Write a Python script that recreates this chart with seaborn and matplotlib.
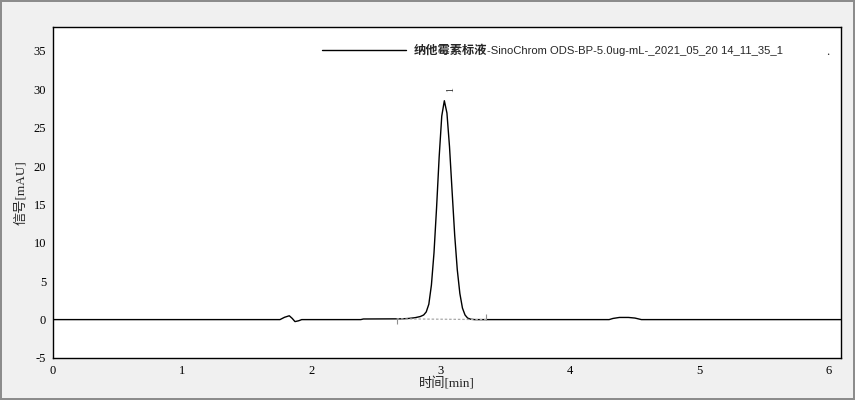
import pandas as pd
import matplotlib
matplotlib.use("Agg")
import matplotlib.pyplot as plt
import seaborn as sns

# chromatogram trace (time in min, signal in mAU)
time_min = [0.0, 1.70, 1.755, 1.79, 1.827, 1.85, 1.871, 1.90, 1.923, 2.38, 2.40,
            2.70, 2.75, 2.80, 2.84, 2.866, 2.886, 2.906, 2.926, 2.946, 2.966,
            2.986, 3.006, 3.026, 3.046, 3.066, 3.086, 3.106, 3.126, 3.146,
            3.166, 3.186, 3.206, 3.23, 3.26, 3.35, 4.30, 4.33, 4.38, 4.45,
            4.50, 4.55, 6.10]
signal_mau = [0.0, 0.0, 0.0, 0.3, 0.5, 0.15, -0.26, -0.15, 0.0, 0.0, 0.08,
              0.1, 0.15, 0.25, 0.4, 0.6, 1.0, 2.0, 4.5, 8.7, 14.6,
              21.2, 26.5, 28.5, 26.9, 22.5, 16.7, 11.0, 6.5, 3.4,
              1.5, 0.6, 0.2, 0.05, 0.0, 0.0, 0.0, 0.15, 0.28, 0.28,
              0.2, 0.0, 0.0]

# integration baseline of peak 1
baseline_t = [2.657, 3.348]
baseline_y = [0.1, 0.0]
peak_names = ["1"]
peak_t = [3.03]
peak_h = [28.5]

legend_cn = "纳他霉素标液"
legend_rest = "-SinoChrom ODS-BP-5.0ug-mL-_2021_05_20 14_11_35_1"

sns.set_style("white")
plt.rcParams["font.family"] = ["Liberation Serif", "Noto Sans CJK SC", "DejaVu Sans"]
plt.rcParams["axes.unicode_minus"] = False

df = pd.DataFrame({"t": time_min, "s": signal_mau})

fig = plt.figure(figsize=(8.55, 4.0), dpi=100)
fig.patch.set_facecolor("#f0f0f0")
fig.patch.set_edgecolor("#8c8c8c")
fig.patch.set_linewidth(1.5)
ax = fig.add_axes([0.062, 0.105, 0.9216, 0.8275])
ax.set_facecolor("white")

sns.lineplot(data=df, x="t", y="s", ax=ax, color="black", linewidth=1.0,
             sort=False, estimator=None, label=legend_cn)

# baseline under the peak and its start / end marks
ax.plot(baseline_t, baseline_y, color="#a8a8a8", linestyle=(0, (2, 1.5)), linewidth=0.9)
ax.vlines(baseline_t[0], -0.6, 0.2, color="#909090", linewidth=0.8)
ax.vlines(baseline_t[1], -0.1, 0.7, color="#909090", linewidth=0.8)

for name, t, h in zip(peak_names, peak_t, peak_h):
    ax.annotate(name, xy=(t, h), xytext=(4, 6), textcoords="offset points",
                rotation=90, ha="center", va="bottom", fontsize=7, color="#333333")

ax.set_xlim(0, 6.093)
ax.set_ylim(-5, 38.1)
ax.set_xticks(range(0, 7))
ax.set_yticks(range(-5, 40, 5))
ax.tick_params(axis="both", direction="out", length=4, width=0.8,
               labelsize=9, colors="black", pad=1)
for sp in ax.spines.values():
    sp.set_color("black")
    sp.set_linewidth(1.0)

ax.set_xlabel("时间[min]", fontsize=9.5, labelpad=0.5)
ax.set_ylabel("信号[mAU]", fontsize=9.5, labelpad=5)

leg = ax.legend(loc="upper left", bbox_to_anchor=(0.335, 0.963), frameon=False,
                handlelength=6.9, handletextpad=0.6, borderaxespad=0,
                prop={"family": ["Noto Sans CJK SC"], "weight": "bold", "size": 8.8})
ax.annotate(legend_rest, xy=(1, 0.5), xycoords=leg.get_texts()[0], va="center",
            ha="left", fontsize=8.1, family=["Liberation Sans", "DejaVu Sans"],
            zorder=10)
ax.text(0.9835, 0.915, ".", transform=ax.transAxes, fontsize=9, ha="center")

fig.savefig("out.png", dpi=100, facecolor=fig.get_facecolor(), edgecolor=fig.get_edgecolor())
